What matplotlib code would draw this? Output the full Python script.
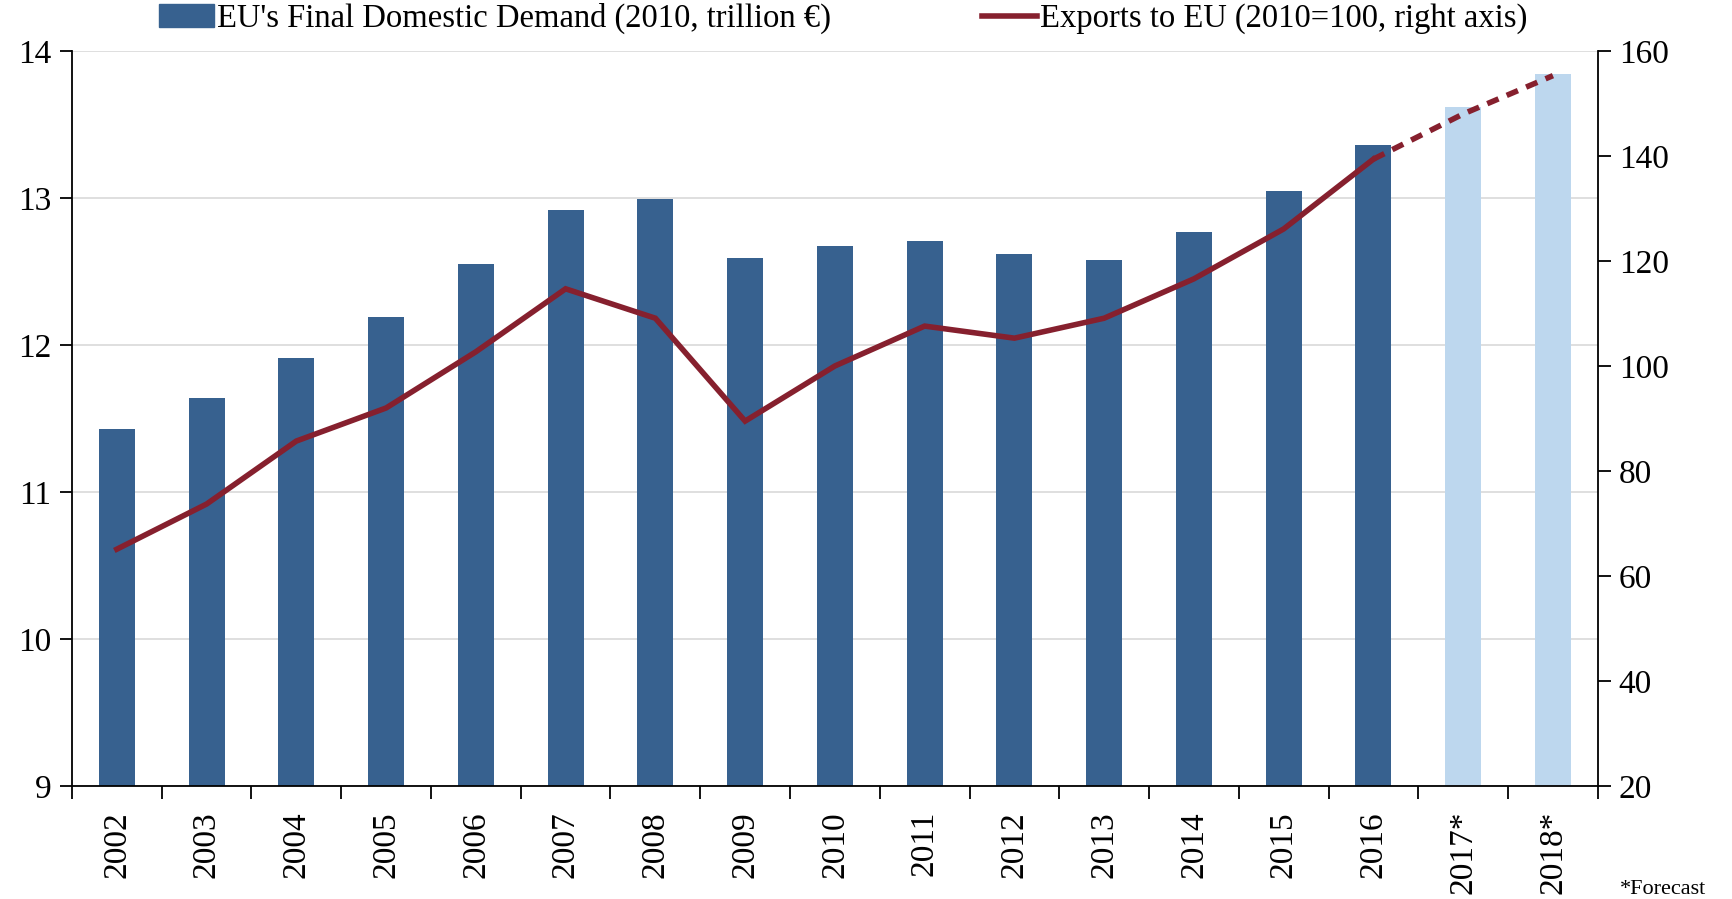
import numpy as np
from matplotlib import pyplot as plt
from matplotlib.lines import Line2D
from matplotlib.patches import Patch

years = ["2002", "2003", "2004", "2005", "2006", "2007", "2008", "2009", "2010",
         "2011", "2012", "2013", "2014", "2015", "2016", "2017*", "2018*"]
demand = [11.43, 11.64, 11.91, 12.19, 12.55, 12.92, 12.99, 12.59, 12.67,
          12.71, 12.62, 12.58, 12.77, 13.05, 13.36, 13.62, 13.84]
exports = [65.1, 73.7, 85.7, 92.0, 102.7, 114.7, 109.1, 89.5, 100.0,
           107.6, 105.3, 109.1, 116.6, 126.1, 139.4, 148.0, 155.3]
n_actual = 15  # 2002-2016 are actual, the rest forecast

BAR = "#37618f"
BAR_FC = "#bdd7ee"
LINE = "#86202e"

plt.rcParams['font.family'] = ['Liberation Serif', 'DejaVu Serif']

fig = plt.figure(figsize=(17.33, 8.99), dpi=100)
ax = fig.add_axes([0.0415, 0.1257, 0.8805, 0.8176])

x = np.arange(len(years))
colors = [BAR] * n_actual + [BAR_FC] * (len(years) - n_actual)
ax.bar(x, demand, width=0.4, color=colors, zorder=2)

ax.set_ylim(9, 14)
ax.set_yticks([9, 10, 11, 12, 13, 14])
ax.set_xlim(-0.5, len(years) - 0.5)
ax.grid(axis="y", color="#d9d9d9", linewidth=1.2, zorder=0)
ax.set_axisbelow(True)

ax.set_xticks(x)
ax.set_xticklabels(years, rotation=90, fontsize=24)
ax.tick_params(axis="x", length=0, pad=18)
ax.set_xticks(np.arange(-0.5, len(years)), minor=True)
ax.tick_params(axis="x", which="minor", length=9, width=1.3, direction="out")
ax.tick_params(axis="y", labelsize=24, length=9, width=1.3, direction="out", pad=6)

for s in ["top", "right"]:
    ax.spines[s].set_visible(False)
for s in ["left", "bottom"]:
    ax.spines[s].set_linewidth(1.3)

ax2 = ax.twinx()
ax2.plot(x[:n_actual], exports[:n_actual], color=LINE, linewidth=4,
         solid_joinstyle="miter", zorder=3)
ax2.plot(x[n_actual - 1:], exports[n_actual - 1:], color=LINE, linewidth=4,
         linestyle=(0, (2.2, 1.6)), zorder=3)
ax2.set_ylim(20, 160)
ax2.set_yticks(np.arange(20, 161, 20))
ax2.tick_params(axis="y", labelsize=24, length=9, width=1.3, direction="out", pad=6)
ax2.spines["right"].set_linewidth(1.3)
for s in ["top", "left", "bottom"]:
    ax2.spines[s].set_visible(False)

handles = [Patch(color=BAR), Line2D([0], [0], color=LINE, linewidth=4)]
labels = ["EU's Final Domestic Demand (2010, trillion €)",
          "Exports to EU (2010=100, right axis)"]
fig.legend(handles, labels, loc="center left", bbox_to_anchor=(0.084, 0.979),
           ncol=2, frameon=False, fontsize=23.5, handlelength=1.7,
           handletextpad=0.1, columnspacing=4.6, borderaxespad=0)

fig.text(0.935, 0.0, "*Forecast", fontsize=16, va="bottom")

plt.savefig("out.png", dpi=100)
